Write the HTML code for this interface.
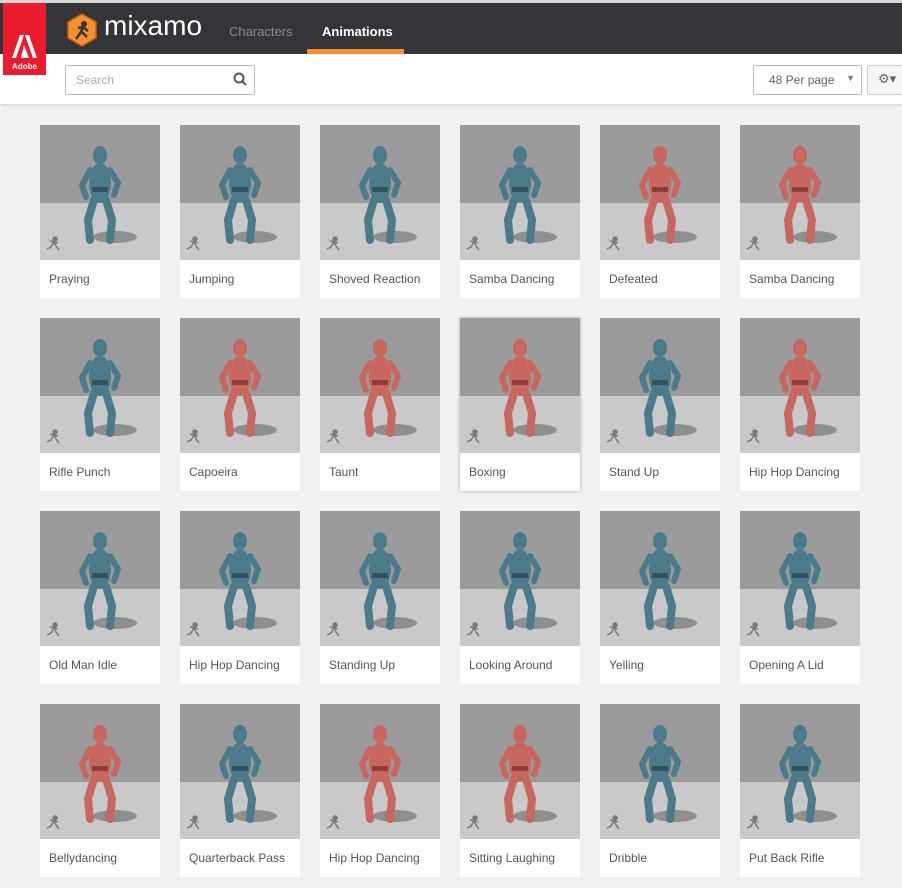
<!DOCTYPE html>
<html><head><meta charset="utf-8">
<style>
body{margin:0;width:902px;height:888px;overflow:hidden;background:#f1f1f1;font-family:"Liberation Sans",sans-serif;position:relative}
#top{position:absolute;left:0;top:0;width:902px;height:3px;background:#d8d8d8}
#hdr{position:absolute;left:0;top:3px;width:902px;height:51px;background:#333538}
#adobe{position:absolute;left:3px;top:3px;width:43px;height:72px;background:#eb1c2d;color:#fff;font-size:8px;font-weight:bold;text-align:center;z-index:3}
#bar{position:absolute;left:0;top:54px;width:902px;height:50px;background:#fff;box-shadow:0 1px 3px rgba(0,0,0,.12)}
.nav{position:absolute;top:21px;font-size:13px}
#search{position:absolute;left:65px;top:65px;width:188px;height:28px;border:1px solid #bbb;border-radius:2px;background:#fff}
#per{position:absolute;left:753px;top:65px;width:107px;height:28px;border:1px solid #bbb;border-radius:2px;background:#fff;font-size:12px;color:#666}
#gear{position:absolute;left:867px;top:65px;width:40px;height:28px;border:1px solid #ccc;border-radius:2px;background:#f5f5f5}
.card{position:absolute;width:120px;height:173px;background:#fff}
.card svg{display:block}
.lbl{position:absolute;left:9px;top:147px;font-size:12px;color:#555}
</style></head><body>
<div id="top"></div>
<div id="hdr">
 <svg style="position:absolute;left:66px;top:10px" width="32" height="34"><polygon points="16,1 30,9 30,25 16,33 2,25 2,9" fill="#f6902e" stroke="#c06010" stroke-width="1.5"/><circle cx="18" cy="11" r="3" fill="#333"/><path d="M10 26 L15 19 L17 14 L22 18 M17 14 L12 15 M16 19 L21 24" stroke="#333" stroke-width="2.5" fill="none"/></svg>
 <div style="position:absolute;left:104px;top:7px;font-size:28px;color:#fff">mixamo</div>
 <div class="nav" style="left:229px;color:#8a8c8f">Characters</div>
 <div class="nav" style="left:322px;color:#fff;font-weight:bold">Animations</div>
 <div style="position:absolute;left:307px;top:46px;width:97px;height:5px;background:#f6902e"></div>
</div>
<div id="adobe"><svg width="43" height="56" style="display:block"><polygon points="9,55 17,32 21,32 13,55" fill="#fff"/><polygon points="22,32 26,32 34,55 30,55" fill="#fff"/><polygon points="21,42 26,55 18,55" fill="#fff"/></svg><div style="margin-top:3px;font-size:8px">Adobe</div></div>
<div id="bar"></div>
<div id="search"><span style="position:absolute;left:10px;top:7px;font-size:12px;color:#aaa">Search</span><svg style="position:absolute;right:7px;top:6px" width="14" height="14"><circle cx="6" cy="6" r="4.5" stroke="#555" stroke-width="2" fill="none"/><line x1="9" y1="9" x2="13" y2="13" stroke="#555" stroke-width="2"/></svg></div>
<div id="per"><span style="position:absolute;left:15px;top:7px">48 Per page</span><span style="position:absolute;right:6px;top:7px;font-size:9px;color:#777">▼</span></div>
<div id="gear"><span style="position:absolute;left:10px;top:5px;font-size:13px;color:#666">⚙▾</span></div>
<div id="grid"></div>
<script>
const names=["Praying","Jumping","Shoved Reaction","Samba Dancing","Defeated","Samba Dancing","Rifle Punch","Capoeira","Taunt","Boxing","Stand Up","Hip Hop Dancing","Old Man Idle","Hip Hop Dancing","Standing Up","Looking Around","Yelling","Opening A Lid","Bellydancing","Quarterback Pass","Hip Hop Dancing","Sitting Laughing","Dribble","Put Back Rifle"];
const colors="ttttrrtrrrtrttttttrtrrtt";
const g=document.getElementById('grid');
names.forEach((n,i)=>{
 const c=i%6,r=Math.floor(i/6);
 const d=document.createElement('div');
 d.className='card';
 d.style.left=(40+c*140)+'px';d.style.top=(125+r*193)+'px';
 if(i===9)d.style.boxShadow='0 0 3px rgba(0,0,0,.35)';
 
 
 const col=colors[i]==='r'?'#c8675f':'#4b7b8a';
 const dk=colors[i]==='r'?'#8e3f3a':'#2f5561';
 d.innerHTML=`<svg width="120" height="135"><rect width="120" height="135" fill="#c9c9c9"/><rect width="120" height="78" fill="#9b9b9b"/>
 <ellipse cx="75" cy="112" rx="22" ry="6" fill="#8f8f8f"/>
 <ellipse cx="60" cy="30" rx="7" ry="9" fill="${col}"/>
 <ellipse cx="60" cy="58" rx="11" ry="20" fill="${col}"/>
 <rect x="52" y="62" width="16" height="5" fill="${dk}"/>
 <path d="M54 75 L48 95 L50 115 M66 75 L72 95 L70 115" stroke="${col}" stroke-width="8" fill="none" stroke-linecap="round"/>
 <path d="M50 45 L42 60 L46 72 M70 45 L78 58 L74 70" stroke="${col}" stroke-width="6" fill="none" stroke-linecap="round"/>
 <g stroke="#7a7a7a" stroke-width="1.5" fill="none"><circle cx="15" cy="114" r="2" fill="#7a7a7a"/><path d="M14 117 L11 122 L7 124 M14 117 L16 121 L19 125 M14 117 L10 116 M14 117 L18 118"/></g></svg><div class="lbl">${n}</div>`;
 g.appendChild(d);
});
</script>
</body></html>
